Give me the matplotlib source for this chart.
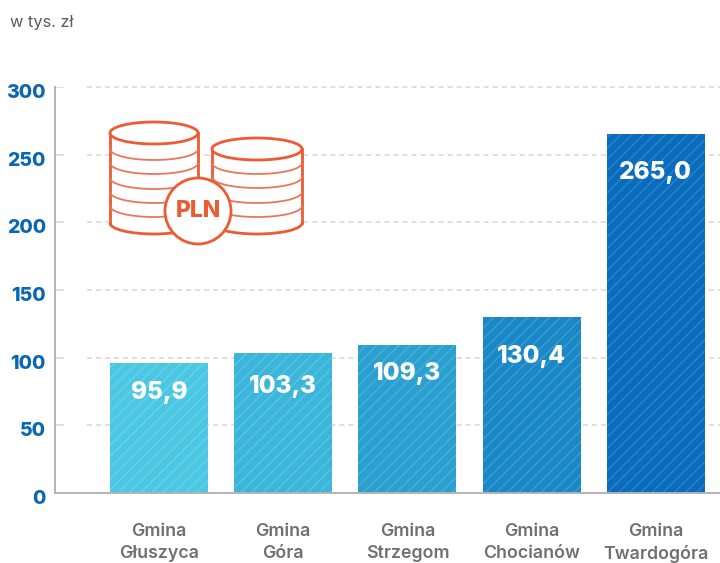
import matplotlib
matplotlib.use('Agg')
import matplotlib.pyplot as plt
from matplotlib.patches import Arc, Circle, Rectangle, Ellipse
from matplotlib.transforms import ScaledTranslation, blended_transform_factory

# data
gminas = ['Gmina\nGłuszyca', 'Gmina\nGóra', 'Gmina\nStrzegom', 'Gmina\nChocianów', 'Gmina\nTwardogóra']
values = [95.9, 103.3, 109.3, 130.4, 265.0]
value_labels = ['95,9', '103,3', '109,3', '130,4', '265,0']
y_ticks = [0, 50, 100, 150, 200, 250, 300]

# how far each value label sits below its bar top, in px
label_drop = [29, 33, 28, 40, 38]
bar_colors = ['#4cc7e3', '#3cb5db', '#2b9fd0', '#1a88c6', '#0a6cbc']
hatch_colors = ['#66d2ea', '#58c4e4', '#48b1da', '#3a9cd2', '#2d83ca']
ORANGE = '#ee5a32'
BLUE = '#0b67b2'
W, H = 720, 563
STEP = 124.2

plt.rcParams['font.family'] = ['Inter', 'DejaVu Sans']
plt.rcParams['hatch.linewidth'] = 1.0

fig = plt.figure(figsize=(W / 100, H / 100), dpi=100)
ax = fig.add_axes([55 / W, 1 - 493 / H, (W - 55) / W, 406 / H])
ax.set_xlim((55 - 159) / STEP, (W - 159) / STEP)
ax.set_ylim(0, 300)

# dashed grid starts a bit right of the axis, short tick in front of it
trans = blended_transform_factory(ax.transAxes, ax.transData)
for t in y_ticks[1:]:
    ax.plot([32 / 665, 1], [t, t], transform=trans, color='#d6d6d6', lw=1.1,
            dashes=(3.3, 2.6), zorder=1, clip_on=False)
    ax.plot([0, 8 / 665], [t, t], transform=trans, color='#d6d6d6', lw=1.1, zorder=1)

for i, v in enumerate(values):
    ax.bar(i, v, width=98 / STEP, facecolor=bar_colors[i], edgecolor=hatch_colors[i],
           hatch='///', linewidth=0, zorder=2)
    ax.annotate(value_labels[i], xy=(i, v), xytext=(0, -label_drop[i] * 0.72), textcoords='offset points',
                color='white', fontsize=17.5, fontweight='heavy', ha='center', va='center', zorder=3)

for s in ['top', 'right']:
    ax.spines[s].set_visible(False)
for s in ['left', 'bottom']:
    ax.spines[s].set_color('#b3b3b3')
    ax.spines[s].set_linewidth(1.4)

ax.set_xticks(range(len(gminas)))
ax.set_xticklabels(gminas, fontsize=12.8, fontweight='semibold', color='#707070', linespacing=1.38)
ax.tick_params(axis='x', length=0, pad=21.5)
ax.set_yticks(y_ticks)
ax.set_yticklabels(y_ticks, fontsize=14, fontweight='heavy', color=BLUE)
ax.tick_params(axis='y', length=0, pad=6.5)
for lab in ax.get_yticklabels():
    lab.set_transform(lab.get_transform() + ScaledTranslation(0, -4 / 100, fig.dpi_scale_trans))

fig.text(10 / W, 1 - 23 / H, 'w tys. zł', fontsize=11.8, color='#5a5a5a', va='center', ha='left')

# coins icon, drawn in pixel coordinates on top of the chart
icon = fig.add_axes([0, 0, 1, 1], zorder=5)
icon.set_xlim(0, W)
icon.set_ylim(H, 0)
icon.axis('off')


def stack(x0, x1, top, bottom, rings):
    cx = (x0 + x1) / 2
    w = x1 - x0
    icon.add_patch(Rectangle((x0, top), w, bottom - top, fc='white', ec='none', zorder=1))
    icon.add_patch(Ellipse((cx, bottom), w, 22, fc='white', ec='none', zorder=1))
    icon.add_patch(Ellipse((cx, top), w, 22, fc='white', ec=ORANGE, lw=2, zorder=3))
    icon.plot([x0, x0], [top, bottom], color=ORANGE, lw=2, zorder=2)
    icon.plot([x1, x1], [top, bottom], color=ORANGE, lw=2, zorder=2)
    # y axis is inverted, so the lower half of the ellipse is 0..180 here
    icon.add_patch(Arc((cx, bottom), w, 22, theta1=0, theta2=180, color=ORANGE, lw=2, zorder=2))
    for r in rings:
        icon.add_patch(Arc((cx, r - 11), w, 22, theta1=0, theta2=180, color='#e9775a', lw=1.3, zorder=2))


stack(110, 198, 133, 223, [160, 174, 189, 203, 217])
stack(212, 302, 149, 223, [174, 188, 203, 217])
icon.add_patch(Circle((198, 211), 33, fc='white', ec=ORANGE, lw=2, zorder=4))
icon.text(198, 211, 'PLN', color=ORANGE, fontsize=16.5, fontweight='heavy', ha='center', va='center', zorder=5)

fig.savefig('out.png', dpi=100)
